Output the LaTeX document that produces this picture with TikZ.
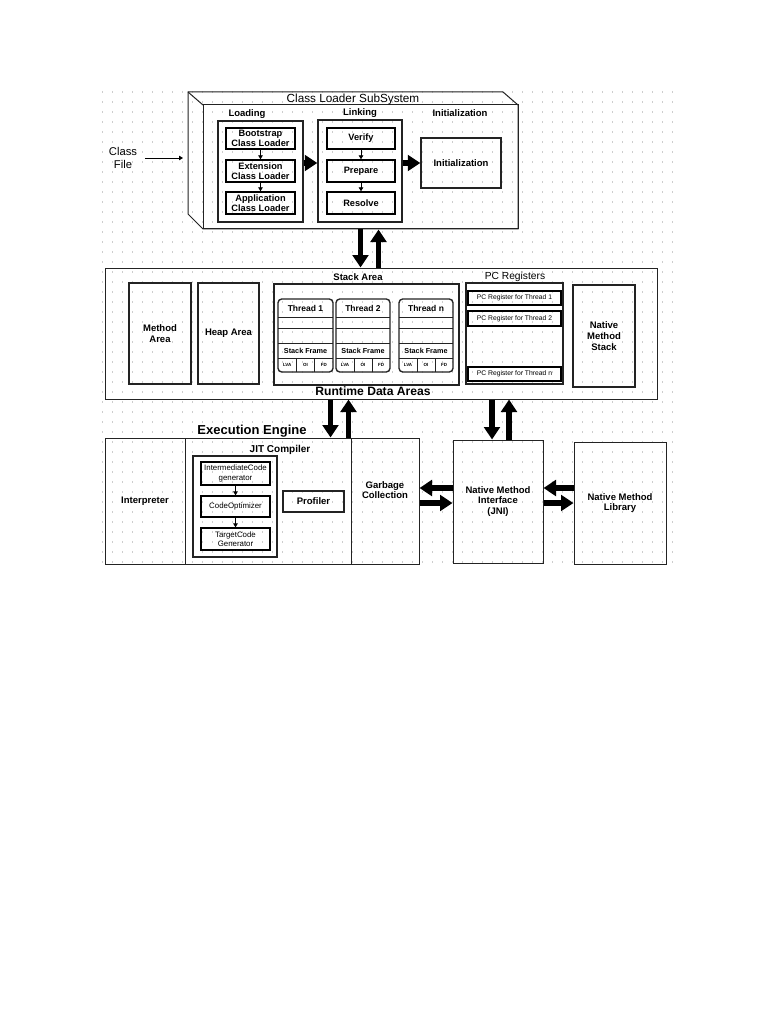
\documentclass[tikz,border=0pt]{standalone}
\usepackage{fontspec}
\setmainfont{Liberation Sans}
\usepackage{tikz}
\usetikzlibrary{arrows.meta, positioning, fit, calc}
\definecolor{lineblack}{RGB}{35,35,35}
\definecolor{griddot}{RGB}{205,205,205}
\newcommand{\fsz}[2]{\fontsize{#1}{#2}\selectfont}

\begin{document}
\begin{tikzpicture}[x=0.8pt, y=-0.8pt,
  area/.style={draw=lineblack, line width=0.8pt, inner sep=0pt},
  lbl/.style={inner sep=0pt, align=center, font=\fsz{7.6}{8.6}\bfseries},
  inbox/.style={draw=black, line width=1.1pt, inner sep=0pt, label={[lbl, font=\fsz{7.4}{8.4}\bfseries]center:{#1}}},
  bigbox/.style={area, label={[lbl]center:{#1}}},
  plain/.style={draw=black, line width=1pt, inner sep=0pt, label={[lbl, font=\fsz{6.3}{7.4}]center:{#1}}},
  pcbox/.style={draw=black, line width=1pt, inner sep=0pt, label={[lbl, font=\fsz{5.4}{6}]center:{#1}}},
  bigarrow/.style={line width=4.6pt, -{Triangle[length=10pt, width=12.5pt]}},
  smallarrow/.style={line width=0.7pt, -{Triangle[length=3.2pt, width=3.6pt]}}]

  \useasboundingbox (0,0) rectangle (768,1024);
  \fill[white] (0,0) rectangle (768,1024);

  % dotted background
  \foreach \gy in {92,102,...,562}
    \draw[griddot, line width=0.9pt, dash pattern=on 0.9pt off 7.1pt] (102,\gy) -- (680,\gy);

  % class loader subsystem
  \draw[area] (188,92) -- (503,92) -- (518,105) -- (518,229) -- (203,229) -- (188,214) -- cycle;
  \draw[area] (188,92) -- (203,105);
  \node[area, fit={(203,105) (518,229)}] (clfront) {};
  \coordinate (clback) at (188,158);
  \node[inner sep=0pt, font=\fsz{9.4}{11}] (cltitle) at (353,99) {Class Loader SubSystem};

  \node[lbl] (loadlbl) at (247,114) {Loading};
  \node[area, line width=1.1pt, fit={(218,121) (303,222)}] (loading) {};
  \node[inbox={Bootstrap\\Class Loader}, fit={(226,128) (295,149)}] (boot) {};
  \node[inbox={Extension\\Class Loader}, fit={(226,160) (295,182)}] (ext) {};
  \node[inbox={Application\\Class Loader}, fit={(226,192) (295,214)}] (app) {};

  \node[lbl] (linklbl) at (360,113) {Linking};
  \node[area, line width=1.1pt, fit={(318,120) (402,222)}] (linking) {};
  \node[inbox=Verify, fit={(327,128) (395,149)}] (verify) {};
  \node[inbox=Prepare, fit={(327,160) (395,182)}] (prepare) {};
  \node[inbox=Resolve, fit={(327,192) (395,214)}] (resolve) {};

  \node[lbl] (initlbl) at (460,113) {Initialization};
  \node[bigbox=Initialization, line width=1.1pt, fit={(421,138) (501,188)}] (init) {};

  \draw[smallarrow] (boot.south) -- (ext.north);
  \draw[smallarrow] (ext.south) -- (app.north);
  \draw[smallarrow] (verify.south) -- (prepare.north);
  \draw[smallarrow] (prepare.south) -- (resolve.north);
  \draw[bigarrow] (loading.east |- init.west) -- (linking.west |- init.west);
  \draw[bigarrow] (linking.east |- init.west) -- (init.west);

  \node[inner sep=0pt, align=center, font=\fsz{9}{10.5}] (clsfile) at (123,158) {Class\\File};
  \draw[smallarrow, line width=0.6pt, shorten <=6pt, shorten >=4pt] (clsfile.east) -- (clsfile.east -| clback);

  % runtime data areas
  \node[area, fit={(105,268) (657,399)}] (rda) {};
  \draw[bigarrow] (clfront.south) -- (clfront.south |- rda.north);
  \coordinate (clup) at ($(clfront.south)+(18,0)$);
  \draw[bigarrow] (clup |- rda.north) -- (clup);

  \node[bigbox={Method\\Area}, line width=1.1pt, fit={(129,283) (191,384)}] (method) {};
  \node[bigbox={Heap Area}, line width=1.1pt, fit={(198,283) (259,384)}] (heap) {};

  \node[lbl] (stacklbl) at (358,277) {Stack Area};
  \node[area, line width=1.1pt, fit={(274,284) (459,385)}] (stack) {};
  \foreach \nm/\xa/\xb/\tname in {thra/278/333/Thread 1, thrb/336/390/Thread 2, thrn/399/453/Thread n} {
    \pgfmathsetmacro{\xc}{(\xa+\xb)/2}
    \pgfmathsetmacro{\xp}{\xa+(\xb-\xa)/3}
    \pgfmathsetmacro{\xq}{\xa+2*(\xb-\xa)/3}
    \node[area, line width=1.1pt, rounded corners=3pt, fit={(\xa,299) (\xb,372)}] (\nm) {};
    \draw[area] (\xa,317) -- (\xb,317) (\xa,328) -- (\xb,328) (\xa,343) -- (\xb,343) (\xa,358) -- (\xb,358);
    \draw[area] (\xp,358) -- (\xp,372) (\xq,358) -- (\xq,372);
    \node[lbl, font=\fsz{6.8}{8}\bfseries] (\nm-name) at (\xc,308) {\tname};
    \node[lbl, font=\fsz{5.8}{7}\bfseries] (\nm-frame) at (\xc,350.5) {Stack Frame};
    \node[lbl, font=\fsz{3.6}{4}\bfseries] (\nm-lva) at ({(\xa+\xp)/2},365) {LVA};
    \node[lbl, font=\fsz{3.6}{4}\bfseries] (\nm-oi) at ({(\xp+\xq)/2},365) {OI};
    \node[lbl, font=\fsz{3.6}{4}\bfseries] (\nm-fd) at ({(\xq+\xb)/2},365) {FD};
  }

  \node[inner sep=0pt, font=\fsz{8.2}{9.5}] (pclbl) at (515,277) {PC Registers};
  \node[area, line width=1.1pt, fit={(466,283) (563,384)}] (pcreg) {};
  \foreach \nm/\ya/\yb/\tn in {pcra/291/305/1, pcrb/311/326/2, pcrn/367/381/n}
    \node[pcbox={PC Register for Thread \tn}, fit={(468,\ya) (561,\yb)}] (\nm) {};

  \node[bigbox={Native\\Method\\Stack}, line width=1.1pt, fit={(573,285) (635,387)}] (nmstack) {};
  \node[lbl, font=\fsz{9.7}{11}\bfseries] (rdalbl) at (373,391) {Runtime Data Areas};

  % execution engine
  \node[lbl, font=\fsz{10.4}{12}\bfseries] (eelbl) at (252,431) {Execution Engine};
  \node[bigbox=Interpreter, fit={(105,438) (185,564)}] (interp) {};
  \node[area, fit={(185,438) (351,564)}] (jit) {};
  \node[area, fit={(351,438) (419,564)}] (gc) {};
  \node[lbl] (gclbl) at ($(gc.center)+(0,-11)$) {Garbage\\Collection};
  \node[lbl, font=\fsz{8}{9}\bfseries] (jitlbl) at (280,450) {JIT Compiler};
  \node[area, line width=1.1pt, fit={(193,456) (277,557)}] (jitin) {};
  \node[plain={IntermediateCode\\generator}, fit={(201,462) (270,485)}] (icg) {};
  \node[plain=CodeOptimizer, fit={(201,496) (270,517)}] (copt) {};
  \node[plain={TargetCode\\Generator}, fit={(201,528) (270,550)}] (tcg) {};
  \draw[smallarrow] (icg.south) -- (copt.north);
  \draw[smallarrow] (copt.south) -- (tcg.north);
  \node[bigbox=Profiler, line width=1.1pt, fit={(283,491) (344,512)}] (profiler) {};

  \node[bigbox={Native Method\\Interface\\(JNI)}, fit={(453,440) (543,563)}] (jni) {};
  \node[bigbox={Native Method\\Library}, fit={(574,442) (666,564)}] (nml) {};

  \coordinate (jitdn) at ($(jit.north east)+(-21,0)$);
  \coordinate (jitup) at ($(jit.north east)+(-3,0)$);
  \draw[bigarrow] (jitdn |- rda.south) -- (jitdn);
  \draw[bigarrow] (jitup) -- (jitup |- rda.south);
  \coordinate (jnidn) at ($(jni.north)+(-6,0)$);
  \coordinate (jniup) at ($(jni.north)+(11,0)$);
  \draw[bigarrow] (jnidn |- rda.south) -- (jnidn);
  \draw[bigarrow] (jniup) -- (jniup |- rda.south);

  \coordinate (gcin) at ($(gc.east)+(0,-13)$);
  \coordinate (gcout) at ($(gc.east)+(0,2)$);
  \draw[bigarrow] (gcin -| jni.west) -- (gcin);
  \draw[bigarrow] (gcout) -- (gcout -| jni.west);
  \coordinate (libin) at ($(nml.west)+(0,-15)$);
  \coordinate (libout) at ($(nml.west)+(0,0)$);
  \draw[bigarrow] (libin) -- (libin -| jni.east);
  \draw[bigarrow] (libout -| jni.east) -- (libout);

\end{tikzpicture}
\end{document}
